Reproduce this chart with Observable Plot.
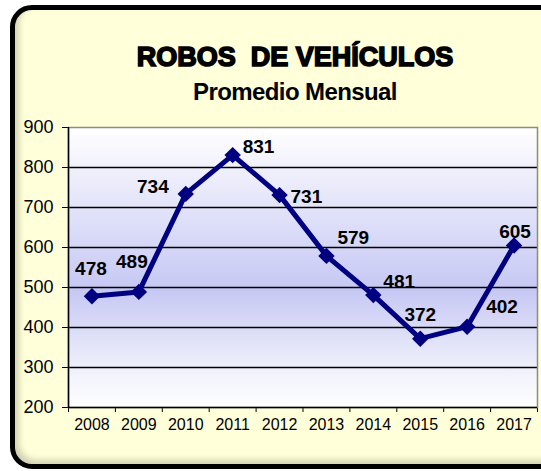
<!DOCTYPE html>
<html><head><meta charset="utf-8">
<script src="https://cdn.jsdelivr.net/npm/d3@7"></script>
<script src="https://cdn.jsdelivr.net/npm/@observablehq/plot@0.6"></script>
<style>
html,body{margin:0;padding:0;background:#fff;overflow:hidden;}
#wrap{position:relative;width:541px;height:471px;overflow:hidden;font-family:"Liberation Sans",Arial,sans-serif;}
#box{position:absolute;left:10px;top:5px;width:600px;height:464px;box-sizing:border-box;border:5px solid #000;border-radius:22px;background:#ffffd9;box-shadow:inset 4px -4px 6px rgba(0,0,0,0.18);}
.t{position:absolute;left:0;width:590px;text-align:center;color:#000;white-space:pre;}
#title{top:44px;font-size:27px;line-height:27px;font-weight:900;-webkit-text-stroke:1.6px #000;letter-spacing:0px;}
#sub{top:80px;font-size:24px;line-height:24px;font-weight:700;letter-spacing:-0.6px;}
#chart{position:absolute;left:0;top:0;width:541px;height:471px;}
#chart svg{max-width:none !important;}
</style></head>
<body>
<div id="wrap">
  <div id="box"></div>
  <div class="t" id="title">ROBOS  DE VEHÍCULOS</div>
  <div class="t" id="sub">Promedio Mensual</div>
  <div id="chart"></div>
</div>
<script>
// ---- data ----
const years = [2008, 2009, 2010, 2011, 2012, 2013, 2014, 2015, 2016, 2017];
const values = [478, 489, 734, 831, 731, 579, 481, 372, 402, 605];
const yTicks = [200, 300, 400, 500, 600, 700, 800, 900];

// ---- label layout (styling, separate from data) ----
const labelAnchor = ["middle", "middle", "end", "start", "start", "start", "start", "middle", "start", "middle"];
const labelDx = [-1, -7, -17, 10, 11, 11, 10, 0, 19, 1];
const labelDy = [-27, -30, -7, -8, 2, -18, -13, -24, -20, -14];

const data = years.map((year, i) => ({year, value: values[i]}));
const x0 = years[0] - 0.5, x1 = years[years.length - 1] + 0.5;
const boundaries = d3.range(x0, x1 + 0.01, 1);

const labelMarks = data.map((d, i) => Plot.text([d], {
  x: "year", y: "value", text: dd => String(dd.value),
  textAnchor: labelAnchor[i], dx: labelDx[i], dy: labelDy[i],
  fontSize: 19, fontWeight: "bold", fill: "#000"
}));

const plot = Plot.plot({
  width: 541, height: 471,
  marginLeft: 68, marginRight: 4, marginTop: 127, marginBottom: 64,
  style: {background: "transparent", fontFamily: "Liberation Sans, Arial, sans-serif", fontSize: "17px", color: "#000", overflow: "visible"},
  x: {type: "linear", domain: [x0, x1], ticks: boundaries, tickFormat: () => "", tickSize: 5, label: null},
  y: {domain: [200, 900], ticks: yTicks, tickSize: 6, tickFormat: () => "", label: null},
  marks: [
    Plot.frame({fill: "url(#bgGrad)"}),
    Plot.ruleY(yTicks.filter(v => v > 200 && v < 900), {stroke: "#000", strokeWidth: 1.6}),
    Plot.frame({stroke: "#8a8a8a", strokeWidth: 1.5}),
    Plot.ruleX([x0], {stroke: "#000", strokeWidth: 1.5}),
    Plot.ruleY([200], {stroke: "#000", strokeWidth: 1.5}),
    Plot.line(data, {x: "year", y: "value", stroke: "#000080", strokeWidth: 5, strokeLinejoin: "round"}),
    Plot.dot(data, {x: "year", y: "value", symbol: "diamond2", r: 7.4, fill: "#000080", stroke: "none"}),
    Plot.text(data, {x: "year", frameAnchor: "bottom", text: d => String(d.year), dy: 22, fontSize: 16, fill: "#000"}),
    Plot.text(yTicks, {y: d => d, frameAnchor: "left", text: d => String(d), textAnchor: "end", dx: -15, fontSize: 18, fill: "#000"}),
    ...labelMarks
  ]
});

const svg = d3.select(plot);
const grad = svg.insert("defs", ":first-child").append("linearGradient")
  .attr("id", "bgGrad").attr("x1", 0).attr("y1", 0).attr("x2", 0).attr("y2", 1);
[[0, "#ffffff"], [0.15, "#f0f0fc"], [0.58, "#c6c8f4"], [0.85, "#eeeffb"], [1, "#ffffff"]]
  .forEach(([o, c]) => grad.append("stop").attr("offset", o).attr("stop-color", c));

document.getElementById("chart").appendChild(plot);
</script>
</body></html>
